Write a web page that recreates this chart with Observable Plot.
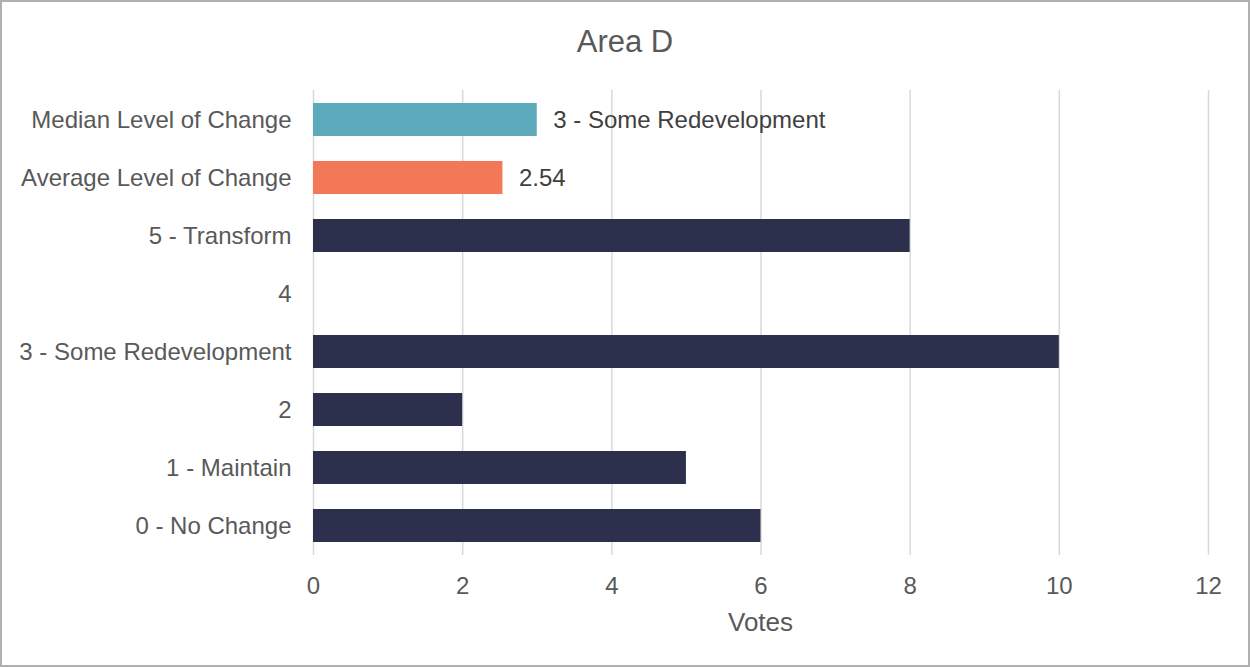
<!DOCTYPE html>
<html><head><meta charset="utf-8">
<script src="https://cdn.jsdelivr.net/npm/d3@7"></script>
<script src="https://cdn.jsdelivr.net/npm/@observablehq/plot@0.6"></script>
<style>
body{margin:0;background:#fff;font-family:"Liberation Sans",Arial,sans-serif;}
#frame{position:absolute;left:0;top:0;width:1250px;height:667px;box-sizing:border-box;border:2px solid #b0b0b0;}
#title{position:absolute;left:0;top:26px;width:1250px;text-align:center;font-size:31px;line-height:31px;color:#595959;}
#chart{position:absolute;left:1px;top:69px;}
#xlabel{position:absolute;left:313px;width:895px;top:609px;text-align:center;font-size:26px;line-height:26px;color:#595959;}
</style></head>
<body>
<div id="frame"></div>
<div id="title">Area D</div>
<div id="chart"></div>
<div id="xlabel">Votes</div>
<script>
const categories = ["Median Level of Change","Average Level of Change","5 - Transform","4","3 - Some Redevelopment","2","1 - Maintain","0 - No Change"];
const votes = [3, 2.54, 8, 0, 10, 2, 5, 6];
const kinds = ["median","average","level","level","level","level","level","level"];
const valueLabels = ["3 - Some Redevelopment","2.54","","","","","",""];
const xTicks = [0,2,4,6,8,10,12];

const data = categories.map((c,i)=>({category:c, votes:votes[i], kind:kinds[i], label:valueLabels[i]}));

const chart = Plot.plot({
  width:1248, height:536, marginLeft:312, marginRight:41, marginTop:21, marginBottom:50,
  style:{fontFamily:'"Liberation Sans",Arial,sans-serif', fontSize:"24px", color:"#595959", background:"transparent", overflow:"visible"},
  x:{domain:[0,12]},
  y:{domain:categories, paddingInner:0.43, paddingOuter:0.215},
  color:{domain:["median","average","level"], range:["#5eaabd","#f37857","#2d304d"]},
  marks:[
    Plot.gridX(xTicks,{stroke:"#d9d9d9", strokeOpacity:1, strokeWidth:1.5}),
    Plot.barX(data,{x:"votes", y:"category", fill:"kind"}),
    Plot.text(data.filter(d=>d.label),{x:"votes", y:"category", text:"label", textAnchor:"start", dx:16, fill:"#404040", fontSize:24}),
    Plot.axisY({tickSize:0, tickPadding:22, fontSize:24, label:null}),
    Plot.axisX({ticks:xTicks, tickSize:0, tickPadding:21, fontSize:24, label:null})
  ]
});
document.getElementById("chart").appendChild(chart);
</script>
</body></html>
